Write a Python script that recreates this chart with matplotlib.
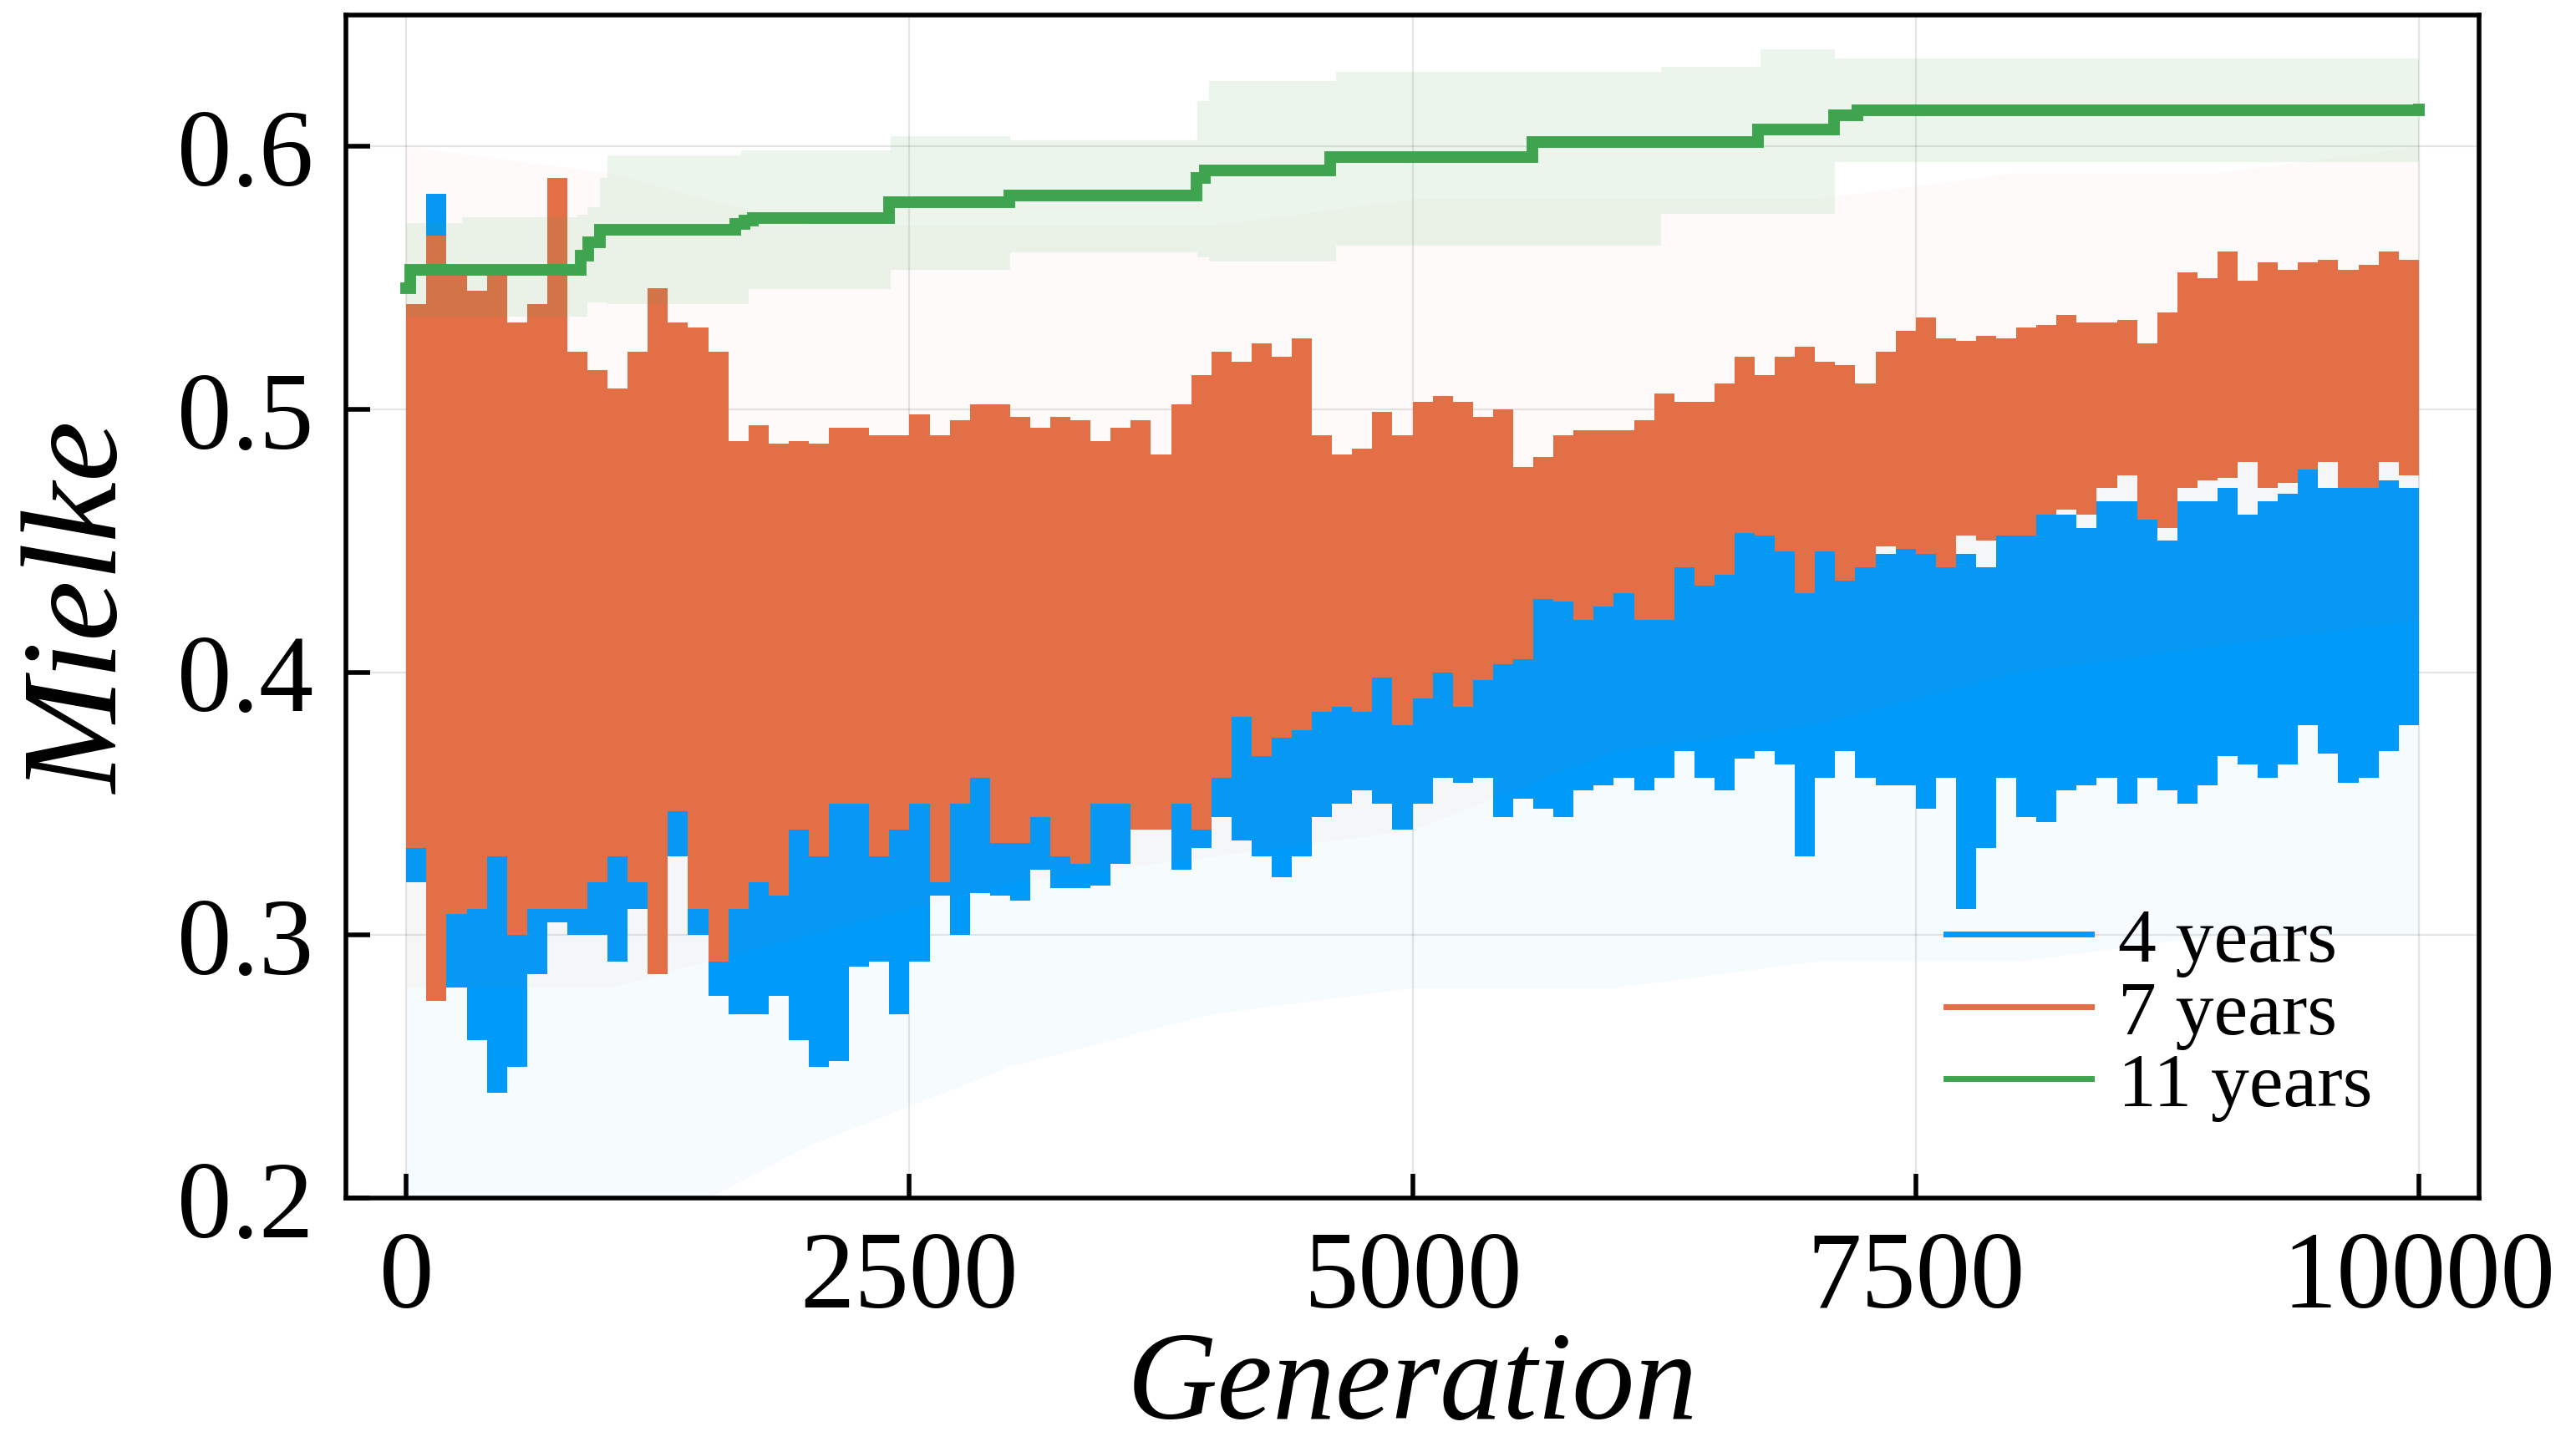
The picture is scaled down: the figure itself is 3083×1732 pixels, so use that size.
import numpy as np
import matplotlib
matplotlib.use("Agg")
import matplotlib.pyplot as plt
from matplotlib.lines import Line2D

# colours (Julia Plots default palette)
c_blue = "#009AFA"
c_orange = "#E36F47"
c_green = "#3EA44E"

# generation grid for the noisy envelopes: one value per 100 generations
gen_bins = np.arange(0, 10000, 100)

orange_hi = [
    0.540, 0.566, 0.553, 0.545, 0.552, 0.533, 0.540, 0.588, 0.522, 0.515,
    0.508, 0.522, 0.546, 0.533, 0.531, 0.522, 0.488, 0.494, 0.487, 0.488,
    0.487, 0.493, 0.493, 0.490, 0.490, 0.498, 0.490, 0.496, 0.502, 0.502,
    0.497, 0.493, 0.497, 0.496, 0.488, 0.493, 0.496, 0.483, 0.502, 0.513,
    0.522, 0.518, 0.525, 0.520, 0.527, 0.490, 0.483, 0.485, 0.499, 0.490,
    0.503, 0.505, 0.503, 0.497, 0.500, 0.478, 0.482, 0.490, 0.492, 0.492,
    0.492, 0.496, 0.506, 0.503, 0.503, 0.510, 0.520, 0.513, 0.520, 0.524,
    0.518, 0.517, 0.510, 0.522, 0.530, 0.535, 0.527, 0.526, 0.528, 0.527,
    0.531, 0.532, 0.536, 0.533, 0.533, 0.534, 0.525, 0.537, 0.552, 0.550,
    0.560, 0.549, 0.556, 0.553, 0.556, 0.557, 0.553, 0.555, 0.560, 0.557,
]
orange_lo = [
    0.333, 0.275, 0.308, 0.310, 0.330, 0.300, 0.310, 0.310, 0.310, 0.320,
    0.330, 0.320, 0.285, 0.347, 0.310, 0.290, 0.310, 0.320, 0.315, 0.340,
    0.330, 0.350, 0.350, 0.330, 0.340, 0.350, 0.320, 0.350, 0.360, 0.335,
    0.335, 0.345, 0.330, 0.327, 0.350, 0.350, 0.340, 0.340, 0.350, 0.340,
    0.360, 0.383, 0.368, 0.375, 0.378, 0.385, 0.387, 0.385, 0.398, 0.380,
    0.390, 0.400, 0.387, 0.397, 0.403, 0.405, 0.428, 0.427, 0.420, 0.425,
    0.430, 0.420, 0.420, 0.440, 0.433, 0.437, 0.453, 0.452, 0.446, 0.430,
    0.446, 0.435, 0.440, 0.448, 0.447, 0.445, 0.440, 0.452, 0.450, 0.452,
    0.452, 0.460, 0.462, 0.460, 0.470, 0.475, 0.458, 0.455, 0.470, 0.473,
    0.474, 0.480, 0.470, 0.472, 0.477, 0.480, 0.470, 0.470, 0.480, 0.475,
]
blue_hi = [
    0.540, 0.582, 0.520, 0.500, 0.500, 0.528, 0.500, 0.500, 0.480, 0.470,
    0.460, 0.460, 0.450, 0.450, 0.450, 0.450, 0.440, 0.440, 0.440, 0.440,
    0.440, 0.440, 0.440, 0.440, 0.440, 0.440, 0.440, 0.440, 0.440, 0.440,
    0.440, 0.440, 0.440, 0.440, 0.440, 0.440, 0.440, 0.440, 0.440, 0.440,
    0.450, 0.450, 0.450, 0.450, 0.450, 0.450, 0.450, 0.450, 0.450, 0.450,
    0.460, 0.460, 0.460, 0.460, 0.460, 0.460, 0.465, 0.465, 0.465, 0.465,
    0.465, 0.465, 0.465, 0.465, 0.465, 0.465, 0.465, 0.465, 0.460, 0.455,
    0.455, 0.450, 0.455, 0.445, 0.455, 0.450, 0.455, 0.445, 0.440, 0.455,
    0.455, 0.460, 0.460, 0.455, 0.465, 0.465, 0.465, 0.450, 0.465, 0.465,
    0.470, 0.460, 0.465, 0.468, 0.477, 0.470, 0.475, 0.473, 0.473, 0.470,
]
blue_lo = [
    0.320, 0.300, 0.280, 0.260, 0.240, 0.250, 0.285, 0.305, 0.300, 0.300,
    0.290, 0.310, 0.300, 0.330, 0.300, 0.277, 0.270, 0.270, 0.277, 0.260,
    0.250, 0.252, 0.288, 0.290, 0.270, 0.290, 0.315, 0.300, 0.316, 0.315,
    0.313, 0.325, 0.318, 0.318, 0.319, 0.327, 0.340, 0.340, 0.325, 0.333,
    0.345, 0.336, 0.330, 0.322, 0.330, 0.345, 0.350, 0.355, 0.350, 0.340,
    0.350, 0.360, 0.358, 0.360, 0.345, 0.352, 0.348, 0.345, 0.355, 0.357,
    0.360, 0.355, 0.360, 0.370, 0.360, 0.355, 0.367, 0.370, 0.365, 0.330,
    0.360, 0.370, 0.360, 0.357, 0.357, 0.348, 0.360, 0.310, 0.333, 0.360,
    0.345, 0.343, 0.355, 0.357, 0.360, 0.350, 0.360, 0.355, 0.350, 0.357,
    0.368, 0.365, 0.360, 0.365, 0.380, 0.369, 0.358, 0.360, 0.370, 0.380,
]

# faint spread ribbons, one value per 1000 generations
rib_gen = [0, 1000, 2000, 3000, 4000, 5000, 6000, 7000, 8000, 9000, 10000]
blue_rib_lo = [0.19, 0.18, 0.22, 0.25, 0.27, 0.28, 0.28, 0.29, 0.29, 0.30, 0.30]
blue_rib_hi = [0.50, 0.48, 0.45, 0.44, 0.45, 0.46, 0.47, 0.47, 0.48, 0.49, 0.50]
orange_rib_lo = [0.28, 0.28, 0.30, 0.32, 0.33, 0.34, 0.37, 0.38, 0.40, 0.41, 0.42]
orange_rib_hi = [0.60, 0.59, 0.57, 0.57, 0.57, 0.58, 0.58, 0.58, 0.59, 0.59, 0.60]

# 11 years: best-so-far step line and its ribbon
green_gen = [0, 20, 868, 905, 960, 1636, 1680, 1720, 2400, 2995, 3925, 3970,
             4590, 5594, 6715, 7093, 7209, 10000]
green_val = [0.546, 0.553, 0.5586, 0.5635, 0.5683, 0.5707, 0.5719, 0.5729,
             0.5787, 0.5813, 0.588, 0.5908, 0.596, 0.6018, 0.6064, 0.612,
             0.6138, 0.6142]
gband_gen = [0, 278, 850, 900, 960, 1000, 1665, 1700, 2408, 3000, 3930, 3990,
             4618, 6235, 6730, 7100, 10000]
gband_hi = [0.571, 0.5732, 0.574, 0.577, 0.5879, 0.5965, 0.5984, 0.5984,
            0.604, 0.6023, 0.6174, 0.625, 0.6284, 0.6304, 0.6369, 0.6336, 0.6336]
gband_lo = [0.5353, 0.5353, 0.5353, 0.5407, 0.5407, 0.540, 0.540, 0.5459,
            0.553, 0.5599, 0.558, 0.5564, 0.5624, 0.5743, 0.5743, 0.5941, 0.5941]

labels = ["4 years", "7 years", "11 years"]

serif = ["Liberation Serif", "DejaVu Serif"]

fig = plt.figure(figsize=(30.83, 17.33), dpi=100)
ax = fig.add_axes([0.1343, 0.1720, 0.8281, 0.8170])

x_edges = np.append(gen_bins, 10000)


def band(lo, hi, color, z):
    ax.fill_between(x_edges, np.append(lo, lo[-1]), np.append(hi, hi[-1]),
                    step="post", color=color, lw=0, zorder=z)


# 4 years
ax.fill_between(rib_gen, blue_rib_lo, blue_rib_hi, color=c_blue, alpha=0.035,
                lw=0, zorder=1)
band(blue_lo, blue_hi, c_blue, 2)
# 7 years
ax.fill_between(rib_gen, orange_rib_lo, orange_rib_hi, color=c_orange,
                alpha=0.03, lw=0, zorder=3)
band(orange_lo, orange_hi, c_orange, 4)
# 11 years
ax.fill_between(gband_gen, gband_lo, gband_hi, step="post", color=c_green,
                alpha=0.1, lw=0, zorder=5)
ax.step(green_gen, green_val, where="post", color=c_green, lw=10,
        solid_joinstyle="miter", zorder=6)

ax.set_xlim(-300, 10300)
ax.set_ylim(0.2, 0.65)
ax.set_xticks([0, 2500, 5000, 7500, 10000])
ax.set_yticks([0.2, 0.3, 0.4, 0.5, 0.6])
ax.set_yticklabels(["0.2", "0.3", "0.4", "0.5", "0.6"])
ax.grid(True, color="black", alpha=0.1, lw=1.6)
ax.set_axisbelow(True)

for s in ax.spines.values():
    s.set_linewidth(4)
    s.set_zorder(10)
ax.tick_params(direction="in", length=21, width=4, top=False, right=False,
               labelsize=94, pad=28)
for t in ax.get_xticklabels() + ax.get_yticklabels():
    t.set_fontfamily(serif)

ax.set_xlabel("Generation", fontsize=108, fontstyle="italic",
              fontfamily=serif, labelpad=0)
ax.set_ylabel("Mielke", fontsize=118, fontstyle="italic",
              fontfamily=serif, labelpad=26)

handles = [Line2D([], [], color=c, lw=5) for c in (c_blue, c_orange, c_green)]
leg = ax.legend(handles, labels, loc="upper left",
                bbox_to_anchor=(0.750, 0.246), frameon=False,
                prop={"family": serif, "size": 66}, handlelength=1.9,
                handletextpad=0.35, labelspacing=0.04, borderpad=0,
                borderaxespad=0)
leg.set_zorder(12)

fig.savefig("out.png", dpi=100)
